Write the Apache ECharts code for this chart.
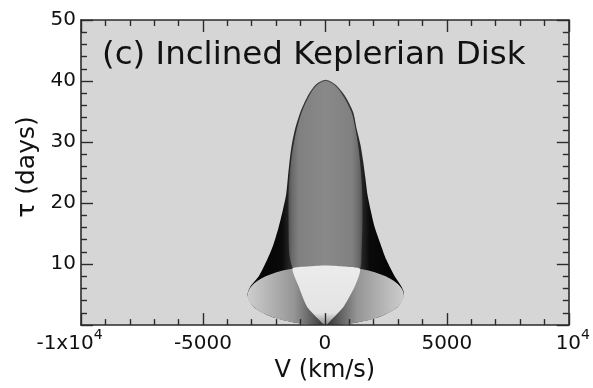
<!DOCTYPE html>
<html>
<head>
<meta charset="utf-8">
<script src="https://cdn.jsdelivr.net/npm/echarts@6/dist/echarts.min.js"></script>
<style>
html,body{margin:0;padding:0;background:#fff;}
#c{width:593px;height:388px;}
</style>
</head>
<body>
<div id="c"></div>
<script>
// ---- tick labels ----
const vTickValues = [-10000, -5000, 0, 5000, 10000];
const vTickBase = ['-1x10', '-5000', '0', '5000', '10'];
const vTickSup = ['4', '', '', '', '4'];
const tauTickLabels = ['', '10', '20', '30', '40', '50'];

// ---- shapes: [V (km/s), tau (days)] ----
// outer envelope of the bell, left side (from the left tip upward to the top)
const envelopeLeft = [
  [-3170, 4.9], [-3050, 6.35], [-2710, 8.0], [-2370, 10.7], [-2100, 13.35],
  [-1900, 16.0], [-1730, 18.75], [-1590, 21.4], [-1520, 24.1], [-1450, 26.8],
  [-1360, 29.5], [-1220, 32.2], [-1010, 34.9], [-700, 37.6], [-380, 39.4], [30, 40.2]
];
// outer envelope, right side (from the top downward to the right tip)
const envelopeRight = [
  [440, 39.4], [820, 37.6], [1160, 34.9], [1300, 32.2], [1460, 29.5],
  [1570, 26.8], [1660, 24.1], [1745, 21.4], [1880, 18.75], [2045, 16.0],
  [2275, 13.35], [2520, 10.7], [2860, 8.0], [3130, 6.35], [3245, 5.0]
];
// inner ring (small radius, high velocity)
const innerRing = [
  [3240, 4.9], [2990, 6.75], [2300, 8.3], [1260, 9.35], [30, 9.75],
  [-1200, 9.35], [-2240, 8.3], [-2930, 6.75], [-3170, 4.9], [-2930, 3.0],
  [-2240, 1.45], [-1200, 0.4], [30, 0.05], [1260, 0.4], [2300, 1.45], [2990, 3.0]
];
// outer ring (large radius, low velocity)
const outerRing = [
  [20, 0], [-265, 1.0], [-745, 3.1], [-1080, 6.35], [-1350, 9.6], [-1460, 11.7],
  [-1490, 17.0], [-1485, 22.5], [-1390, 26.8], [-1290, 29.5], [-1150, 32.2],
  [-950, 34.9], [-640, 37.6], [-330, 39.3], [30, 40.0], [400, 39.3], [740, 37.6],
  [1090, 34.9], [1250, 32.2], [1360, 29.5], [1440, 26.8], [1520, 22.5],
  [1540, 17.0], [1500, 11.7], [1470, 9.6], [1230, 6.35], [780, 3.1], [290, 1.0]
];
// bright region where the two rings overlap
const overlapRegion = [
  [20, 0], [-265, 1.0], [-745, 3.1], [-1080, 6.35], [-1330, 9.25], [-700, 9.6],
  [30, 9.75], [750, 9.6], [1440, 9.2], [1230, 6.35], [780, 3.1], [290, 1.0]
];

// bell = envelope closed by the lower arc of the inner ring
const innerLowerArc = innerRing.filter(p => p[1] < 4.8).sort((a, b) => b[0] - a[0]);
const bellShape = envelopeLeft.concat(envelopeRight, innerLowerArc);

const FONT = 'DejaVu Sans';
const INK = '#111111';
const AX = '#2b2b2b';

function hGrad(stops) {
  return {type: 'linear', x: 0, y: 0, x2: 1, y2: 0,
    colorStops: stops.map(s => ({offset: s[0], color: s[1]}))};
}
function vGrad(stops) {
  return {type: 'linear', x: 0, y: 0, x2: 0, y2: 1,
    colorStops: stops.map(s => ({offset: s[0], color: s[1]}))};
}

function polygonSeries(name, pts, smooth, fill, z) {
  return {
    name: name, type: 'custom', coordinateSystem: 'cartesian2d',
    xAxisIndex: 0, yAxisIndex: 0, z: z, silent: true, clip: true,
    data: pts,
    renderItem: function (params, api) {
      if (params.dataIndex !== 0) return;
      const points = pts.map(p => api.coord(p));
      return {type: 'polygon', shape: {points: points, smooth: smooth},
        style: {fill: fill, stroke: null}};
    }
  };
}

const tickCommon = {
  axisLine: {show: true, onZero: false, lineStyle: {color: AX, width: 1.6}},
  axisTick: {show: true, inside: true, length: 12, lineStyle: {color: AX, width: 1.4}},
  minorTick: {show: true, splitNumber: 5, length: 6, lineStyle: {color: AX, width: 1.4}},
  splitLine: {show: false},
  minorSplitLine: {show: false},
  z: 10
};

const xLabelRich = {
  b: {fontFamily: FONT, fontSize: 20, color: INK, lineHeight: 26, verticalAlign: 'bottom'},
  s: {fontFamily: FONT, fontSize: 14, color: INK, lineHeight: 14, verticalAlign: 'top'},
  pl: {width: 23, fontSize: 14},
  pr: {width: 8, fontSize: 14}
};

const chart = echarts.init(document.getElementById('c'), null, {renderer: 'canvas'});
chart.setOption({
  animation: false,
  backgroundColor: '#ffffff',
  grid: {left: 81, top: 20, width: 491, height: 309, show: true,
    backgroundColor: '#d6d6d6', borderWidth: 0, containLabel: false},
  xAxis: [
    Object.assign({
      type: 'value', position: 'bottom', min: -10000, max: 10000, interval: 5000,
      name: 'V (km/s)', nameLocation: 'middle', nameGap: 33,
      nameTextStyle: {fontFamily: FONT, fontSize: 24, color: INK},
      axisLabel: {
        show: true, margin: 3, rich: xLabelRich,
        formatter: function (v) {
          const i = vTickValues.indexOf(v);
          if (i < 0) return '';
          let s = '{b|' + vTickBase[i] + '}' + (vTickSup[i] ? '{s|' + vTickSup[i] + '}' : '');
          if (i === 0) s = s + '{pl| }';
          if (i === vTickValues.length - 1) s = '{pr| }' + s;
          return s;
        }
      }
    }, tickCommon),
    Object.assign({
      type: 'value', position: 'top', min: -10000, max: 10000, interval: 5000,
      axisLabel: {show: false}
    }, tickCommon)
  ],
  yAxis: [
    Object.assign({
      type: 'value', position: 'left', min: 0, max: 50, interval: 10,
      axisLabel: {
        show: true, margin: 5, fontFamily: FONT, fontSize: 20, color: INK,
        formatter: function (v) { return tauTickLabels[Math.round(v / 10)] || ''; }
      }
    }, tickCommon),
    Object.assign({
      type: 'value', position: 'right', min: 0, max: 50, interval: 10,
      axisLabel: {show: false}
    }, tickCommon)
  ],
  graphic: [
    {type: 'text', left: 102, top: 39, z: 20,
      style: {text: '(c) Inclined Keplerian Disk', fontFamily: FONT, fontSize: 32.5, fill: INK}},
    {type: 'text', x: 27, y: 167, rotation: Math.PI / 2, z: 20,
      style: {text: 'τ (days)', fontFamily: FONT, fontSize: 25, fill: INK,
        align: 'center', verticalAlign: 'middle'}}
  ],
  series: [
    polygonSeries('bell', bellShape, 0.25,
      hGrad([[0, '#000000'], [0.22, '#0a0a0a'], [0.27, '#262626'], [0.5, '#4a4a4a'],
             [0.73, '#262626'], [0.78, '#0a0a0a'], [1, '#000000']]), 2),
    polygonSeries('inner ring', innerRing, 0.35,
      hGrad([[0, '#cdcdcd'], [0.15, '#b2b2b2'], [0.3, '#959595'], [0.42, '#5a5a5a'],
             [0.5, '#303030'], [0.58, '#5a5a5a'], [0.7, '#959595'], [0.85, '#b2b2b2'],
             [1, '#cdcdcd']]), 3),
    polygonSeries('outer ring', outerRing, 0.3,
      hGrad([[0, '#505050'], [0.05, '#6a6a6a'], [0.14, '#808080'], [0.5, '#898989'],
             [0.86, '#808080'], [0.95, '#6a6a6a'], [1, '#505050']]), 4),
    polygonSeries('overlap', overlapRegion, 0.2,
      vGrad([[0, '#ececec'], [0.8, '#e3e3e3'], [1, '#8a8a8a']]), 5)
  ]
});
</script>
</body>
</html>
